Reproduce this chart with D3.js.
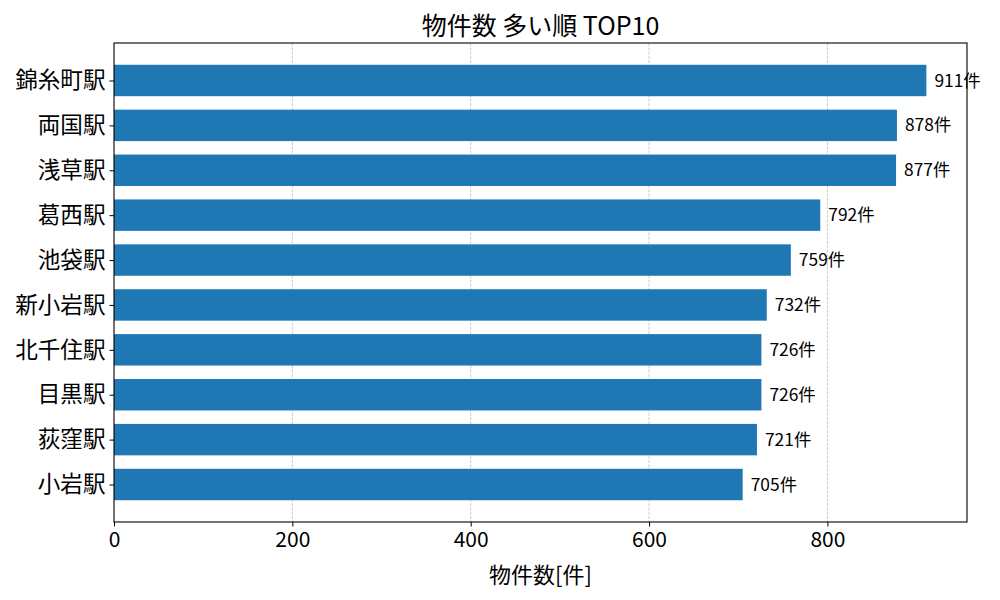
<!DOCTYPE html>
<html><head><meta charset="utf-8">
<script src="https://cdn.jsdelivr.net/npm/d3@7"></script>
<style>body{margin:0;background:#fff}svg{display:block}text{font-family:"Noto Sans CJK JP","Noto Sans",sans-serif;fill:#000}</style>
</head><body><svg id="c" width="1000" height="600"></svg>
<script>
const stations = ["錦糸町駅","両国駅","浅草駅","葛西駅","池袋駅","新小岩駅","北千住駅","目黒駅","荻窪駅","小岩駅"];
const counts = [911,878,877,792,759,732,726,726,721,705];
const xTicks = [0,200,400,600,800];
const title = "物件数 多い順 TOP10";
const xLabel = "物件数[件]";
const unit = "件";

const svg = d3.select("#c");
const L=114,R=967,T=43,B=522;
const x = d3.scaleLinear().domain([0, d3.max(counts)*1.05]).range([L,R]);
const y = d3.scaleLinear().domain([-0.835, counts.length-1+0.835]).range([T,B]);
const bh = y(0.7)-y(0);

const g = svg.append("g");
// grid
g.selectAll("line.grid").data(xTicks.slice(1)).join("line")
  .attr("x1",d=>x(d)).attr("x2",d=>x(d)).attr("y1",T).attr("y2",B)
  .attr("stroke","#b0b0b0").attr("stroke-opacity",0.75).attr("stroke-width",0.9).attr("stroke-dasharray","3,1.3");
// bars
g.selectAll("rect.bar").data(counts).join("rect")
  .attr("x",x(0)).attr("y",(d,i)=>y(i)-bh/2).attr("width",d=>x(d)-x(0)).attr("height",bh)
  .attr("fill","#1f77b4");
// value labels
g.selectAll("text.val").data(counts).join("text")
  .attr("x",d=>x(d)+8).attr("y",(d,i)=>y(i)).attr("dy","0.35em")
  .attr("font-size","17.4px").text(d=>d+unit);
// frame
svg.append("rect").attr("x",L).attr("y",T).attr("width",R-L).attr("height",B-T)
  .attr("fill","none").attr("stroke","#000").attr("stroke-width",1.1);
// x axis
const xa = svg.append("g").attr("transform",`translate(0,${B})`)
  .call(d3.axisBottom(x).tickValues(xTicks).tickSize(4.5).tickPadding(6).tickFormat(d3.format("d")));
xa.select(".domain").remove();
xa.selectAll("text").attr("font-size","21px").style("font-family",'"Noto Sans CJK JP",sans-serif');
// y axis
const ya = svg.append("g").attr("transform",`translate(${L},0)`)
  .call(d3.axisLeft(y).tickValues(d3.range(counts.length)).tickSize(4.5).tickPadding(4).tickFormat(i=>stations[i]));
ya.select(".domain").remove();
ya.selectAll("text").attr("font-size","22.6px").style("font-family",'"Noto Sans CJK JP",sans-serif');
// title
svg.append("text").attr("x",(L+R)/2).attr("y",35).attr("text-anchor","middle")
  .attr("font-size","25px").text(title);
svg.append("text").attr("x",(L+R)/2).attr("y",583).attr("text-anchor","middle")
  .attr("font-size","22px").text(xLabel);
</script></body></html>
